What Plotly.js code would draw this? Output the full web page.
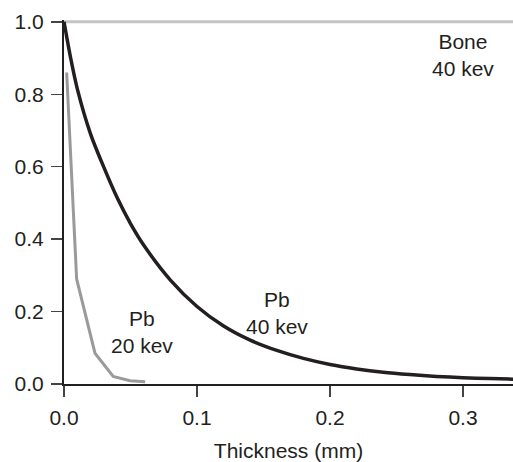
<!DOCTYPE html>
<html>
<head>
<meta charset="utf-8">
<script src="https://cdn.plot.ly/plotly-3.0.1.min.js"></script>
<style>html,body{margin:0;padding:0;background:#fff;}#chart{width:513px;height:462px;}</style>
</head>
<body>
<div id="chart"></div>
<script>
// Bone 40 keV (flat at 1.0)
var boneX = [0, 0.34];
var boneY = [1.0, 1.0];

// Pb 40 keV
var pb40X = [0, 0.005, 0.01, 0.02, 0.03, 0.04, 0.05, 0.06, 0.08, 0.10, 0.12, 0.14, 0.16, 0.18, 0.20, 0.22, 0.24, 0.26, 0.28, 0.30, 0.32, 0.34];
var pb40Y = [1.0, 0.9, 0.815, 0.69, 0.598, 0.514, 0.443, 0.383, 0.287, 0.214, 0.160, 0.121, 0.0926, 0.0707, 0.054, 0.0416, 0.0324, 0.026, 0.021, 0.0175, 0.015, 0.013];

// Pb 20 keV
var pb20X = [0.002, 0.0095, 0.0233, 0.037, 0.0496, 0.061];
var pb20Y = [0.86, 0.29, 0.085, 0.021, 0.009, 0.006];

// Tick labels
var xTicks = [0, 0.1, 0.2, 0.3];
var xTickText = ['0.0', '0.1', '0.2', '0.3'];
var yTicks = [0, 0.2, 0.4, 0.6, 0.8, 1.0];
var yTickText = ['0.0', '0.2', '0.4', '0.6', '0.8', '1.0'];

var labels = [
  {text: 'Bone<br>40 kev', x: 0.3, y: 0.907},
  {text: 'Pb<br>40 kev', x: 0.16, y: 0.195},
  {text: 'Pb<br>20 kev', x: 0.0584, y: 0.1436}
];

var fontFam = '"Liberation Sans", Arial, Helvetica, sans-serif';
var ink = '#231f20';
var fs = 21;

var traces = [
  {x: boneX, y: boneY, mode: 'lines', line: {color: '#c4c4c4', width: 3}, hoverinfo: 'skip'},
  {x: pb20X, y: pb20Y, mode: 'lines', line: {color: '#9a9a9a', width: 3}, hoverinfo: 'skip'},
  {x: pb40X, y: pb40Y, mode: 'lines', line: {color: ink, width: 3.5, shape: 'spline', smoothing: 0.8}, hoverinfo: 'skip'}
];

var layout = {
  width: 513, height: 462,
  margin: {l: 64, r: 0, t: 20, b: 78},
  paper_bgcolor: '#fff', plot_bgcolor: '#fff',
  showlegend: false,
  font: {family: fontFam, size: fs, color: ink},
  xaxis: {
    range: [0, 0.3376], showgrid: false, zeroline: false,
    showline: true, linecolor: ink, linewidth: 2,
    ticks: 'outside', ticklen: 11, tickwidth: 1.5, tickcolor: '#444',
    ticklabelstandoff: 3,
    tickvals: xTicks, ticktext: xTickText,
    tickfont: {family: fontFam, size: fs, color: ink},
    title: {text: 'Thickness (mm)', font: {family: fontFam, size: fs, color: ink}, standoff: 18}
  },
  yaxis: {
    range: [0, 1.005], showgrid: false, zeroline: false,
    showline: true, linecolor: ink, linewidth: 2,
    ticks: 'outside', ticklen: 11, tickwidth: 1.5, tickcolor: '#444',
    ticklabelstandoff: 3,
    tickvals: yTicks, ticktext: yTickText,
    tickfont: {family: fontFam, size: fs, color: ink}
  },
  annotations: labels.map(function (l) {
    return {text: l.text, x: l.x, y: l.y, xref: 'x', yref: 'y', showarrow: false,
      xanchor: 'center', yanchor: 'middle', align: 'center',
      font: {family: fontFam, size: fs, color: ink}};
  })
};

Plotly.newPlot('chart', traces, layout, {staticPlot: true, displayModeBar: false});
</script>
</body>
</html>
